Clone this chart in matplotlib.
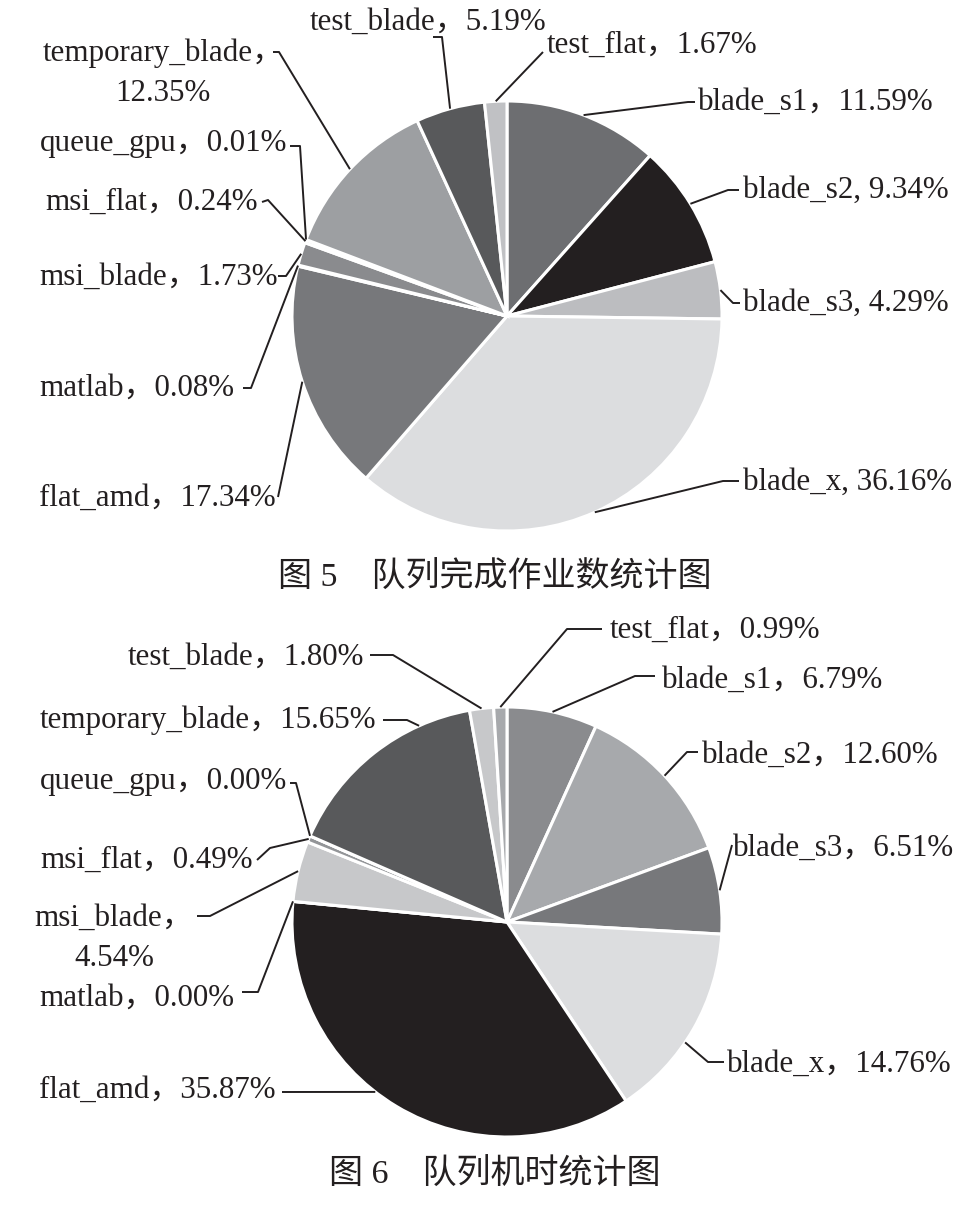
import numpy as np
import matplotlib
matplotlib.use("Agg")
import matplotlib.pyplot as plt

plt.rcParams['font.family'] = ['Liberation Serif', 'Noto Sans CJK SC', 'DejaVu Sans']

# ---- data ----
queues = ['blade_s1', 'blade_s2', 'blade_s3', 'blade_x', 'flat_amd', 'matlab',
          'msi_blade', 'msi_flat', 'queue_gpu', 'temporary_blade', 'test_blade', 'test_flat']

jobs_pct = [11.59, 9.34, 4.29, 36.16, 17.34, 0.08, 1.73, 0.24, 0.01, 12.35, 5.19, 1.67]
time_pct = [6.79, 12.60, 6.51, 14.76, 35.87, 0.00, 4.54, 0.49, 0.00, 15.65, 1.80, 0.99]

jobs_labels = ['blade_s1，11.59%', 'blade_s2, 9.34%', 'blade_s3, 4.29%', 'blade_x, 36.16%',
               'flat_amd，17.34%', 'matlab，0.08%', 'msi_blade，1.73%', 'msi_flat，0.24%',
               'queue_gpu，0.01%', 'temporary_blade，\n12.35%', 'test_blade，5.19%', 'test_flat，1.67%']
time_labels = ['blade_s1，6.79%', 'blade_s2，12.60%', 'blade_s3，6.51%', 'blade_x，14.76%',
               'flat_amd，35.87%', 'matlab，0.00%', 'msi_blade，\n4.54%', 'msi_flat，0.49%',
               'queue_gpu，0.00%', 'temporary_blade，15.65%', 'test_blade，1.80%', 'test_flat，0.99%']

jobs_colors = ['#6d6e71', '#231f20', '#bcbdc0', '#dcdddf', '#77787b', '#58595b',
               '#8a8b8e', '#c7c8ca', '#414042', '#9d9fa2', '#58595b', '#c0c1c4']
time_colors = ['#8a8b8e', '#a7a9ac', '#77787b', '#dcdddf', '#231f20', '#6d6e71',
               '#c7c8ca', '#939598', '#414042', '#58595b', '#c7c8ca', '#a7a9ac']

captions = ['图 5\u3000队列完成作业数统计图', '图 6\u3000队列机时统计图']

# ---- layout (image pixels, y down) ----
W, H = 972, 1210
R = 215
# (text x, text y, ha), leader points from text towards the wedge, fraction inside wedge
jobs_layout = [
    ((698, 102, 'left'), [(695, 102), (688, 102)], 0.5),
    ((743, 190, 'left'), [(739, 190), (728, 190)], 0.5),
    ((743, 303, 'left'), [(740, 303), (733, 303)], 0.5),
    ((743, 482, 'left'), [(739, 481), (723, 481)], 0.5),
    ((39, 498, 'left'), [(278, 497)], 0.5),
    ((39, 388, 'left'), [(243, 388), (251, 388)], 0.5),
    ((39, 277, 'left'), [(278, 276), (286, 276)], 0.5),
    ((45, 202, 'left'), [(262, 202), (268, 200)], 0.5),
    ((40, 143, 'left'), [(290, 146), (300, 146)], 0.5),
    ((163, 73, 'center'), [(273, 52), (279, 52)], 0.5),
    ((310, 22, 'left'), [(433, 37), (442, 37)], 0.5),
    ((547, 45, 'left'), [(543, 52)], 0.5),
]
time_layout = [
    ((662, 680, 'left'), [(655, 676), (635, 676)], 0.5),
    ((702, 755, 'left'), [(698, 752), (687, 752)], 0.5),
    ((733, 848, 'left'), [(732, 845)], 0.5),
    ((727, 1064, 'left'), [(724, 1062), (708, 1062)], 0.58),
    ((39, 1090, 'left'), [(282, 1092)], 0.553),
    ((39, 998, 'left'), [(242, 992), (258, 992)], 0.5),
    ((114, 938, 'center'), [(197, 916), (210, 916)], 0.5),
    ((40, 860, 'left'), [(257, 860), (270, 848)], 0.5),
    ((40, 782, 'left'), [(290, 783), (296, 783)], 0.5),
    ((40, 720, 'left'), [(383, 720), (407, 720)], 0.75),
    ((128, 657, 'left'), [(370, 655), (393, 655)], 0.5),
    ((610, 630, 'left'), [(602, 629), (567, 629)], 0.5),
]

ink = '#231f20'

fig = plt.figure(figsize=(W / 100, H / 100), dpi=100)
ax = fig.add_axes([0, 0, 1, 1])


def draw_pie(values, colors, labels, layout, center, caption, cap_y):
    cx, cy = center[0], H - center[1]
    wedges, _ = ax.pie(values, colors=colors, startangle=90, counterclock=False,
                       center=(cx, cy), radius=R, frame=True,
                       wedgeprops=dict(edgecolor='white', linewidth=2.2))
    for w, lab, (tpos, pts, frac) in zip(wedges, labels, layout):
        ang = np.deg2rad(w.theta2 - frac * (w.theta2 - w.theta1))
        ax_pt = (cx + R * np.cos(ang), cy + R * np.sin(ang))
        xs = [p[0] for p in pts] + [ax_pt[0]]
        ys = [H - p[1] for p in pts] + [ax_pt[1]]
        ax.plot(xs, ys, color=ink, lw=1.4, solid_capstyle='butt')
        tx, ty, ha = tpos
        ax.text(tx, H - ty, lab, ha=ha, va='center', fontsize=22.3, color=ink,
                multialignment='center', linespacing=1.5)
    ax.text(495, H - cap_y, caption, ha='center', va='center', fontsize=24.5, color=ink)


draw_pie(jobs_pct, jobs_colors, jobs_labels, jobs_layout, (507, 316), captions[0], 578)
draw_pie(time_pct, time_colors, time_labels, time_layout, (507, 922), captions[1], 1175)

ax.set_xlim(0, W)
ax.set_ylim(0, H)
ax.set_aspect('equal')
ax.axis('off')

fig.savefig('out.png', dpi=100)
